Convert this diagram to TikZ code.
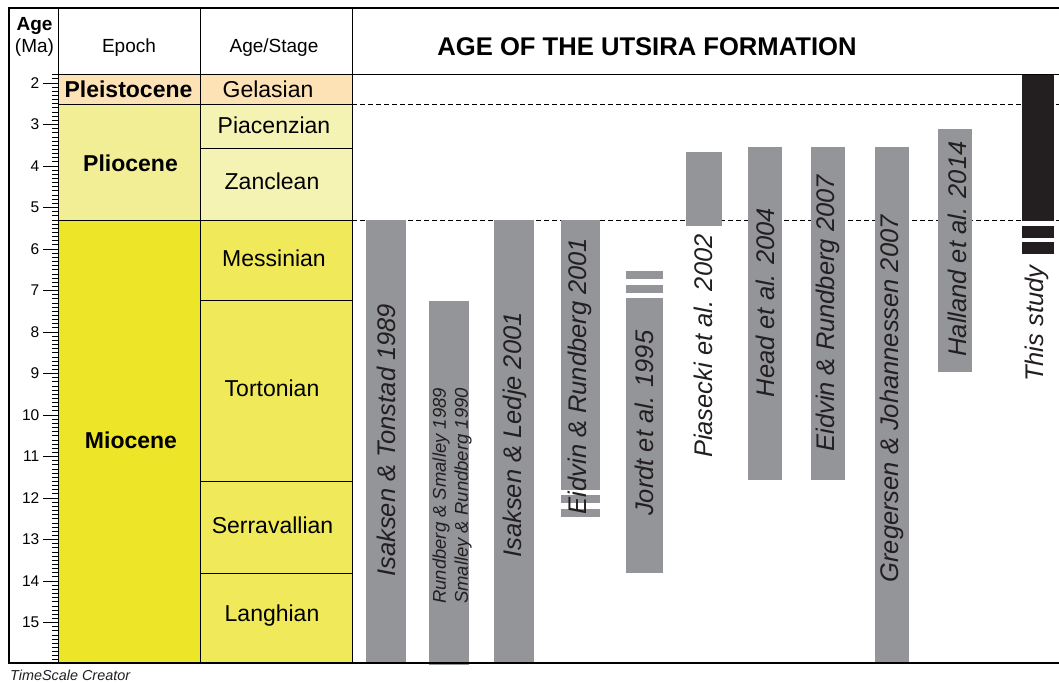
\documentclass[tikz,border=0pt]{standalone}
\usepackage{fontspec}
\setmainfont{Liberation Sans}
\usetikzlibrary{positioning}
\definecolor{pleistocol}{RGB}{253,226,182}
\definecolor{pliocol}{RGB}{242,238,150}
\definecolor{pliostage}{RGB}{245,243,180}
\definecolor{miocol}{RGB}{237,230,40}
\definecolor{miostage}{RGB}{240,234,90}
\definecolor{bargrey}{RGB}{147,149,152}
\definecolor{barblack}{RGB}{35,31,32}

\begin{document}
\begin{tikzpicture}[x=1pt,y=-41.5pt,
  reflabel/.style={rotate=90,inner sep=0pt,text=barblack,font=\fontsize{25.5}{30}\selectfont\itshape},
  hdrtext/.style={inner sep=0pt,font=\fontsize{19}{22}\selectfont},
  epochtext/.style={inner sep=0pt,font=\fontsize{23}{26}\selectfont\bfseries},
  stagetext/.style={inner sep=0pt,font=\fontsize{23}{26}\selectfont},
  ticklabel/.style={inner sep=0pt,anchor=east,font=\fontsize{15.5}{17}\selectfont},
  cell/.style={draw=black,line width=0.8pt},
  tick/.style={line width=0.8pt},
  bound/.style={dash pattern=on 5pt off 3pt,line width=0.8pt}]
\useasboundingbox (0,0) rectangle (1059,16.434);

%epochs
\filldraw[cell,fill=pleistocol] (58,1.783) rectangle (200,2.51);
\filldraw[cell,fill=pliocol] (58,2.51) rectangle (200,5.30);
\filldraw[cell,fill=miocol] (58,5.30) rectangle (200,15.98);
%stages
\filldraw[cell,fill=pleistocol] (200,1.783) rectangle (352,2.51);
\filldraw[cell,fill=pliostage] (200,2.51) rectangle (352,3.566);
\filldraw[cell,fill=pliostage] (200,3.566) rectangle (352,5.30);
\filldraw[cell,fill=miostage] (200,5.30) rectangle (352,7.23);
\filldraw[cell,fill=miostage] (200,7.23) rectangle (352,11.59);
\filldraw[cell,fill=miostage] (200,11.59) rectangle (352,13.81);
\filldraw[cell,fill=miostage] (200,13.81) rectangle (352,15.98);

\node[epochtext] (pleisto) at (128.5,2.145) {Pleistocene};
\node[epochtext] (plio) at (130.5,3.93) {Pliocene};
\node[epochtext] (mio) at (131,10.6) {Miocene};
\node[stagetext] (gel) at (268,2.145) {Gelasian};
\node[stagetext] (pia) at (274,3.03) {Piacenzian};
\node[stagetext] (zan) at (272,4.38) {Zanclean};
\node[stagetext] (mes) at (274,6.22) {Messinian};
\node[stagetext] (tor) at (272,9.35) {Tortonian};
\node[stagetext] (ser) at (272.5,12.65) {Serravallian};
\node[stagetext] (lan) at (272,14.84) {Langhian};

%header
\node[hdrtext,font=\fontsize{19}{22}\selectfont\bfseries] (agehd) at (34.5,0.627) {Age};
\node[hdrtext] (mahd) at (34.5,1.157) {(Ma)};
\node[hdrtext] (epochhd) at (129,1.157) {Epoch};
\node[hdrtext] (stagehd) at (274,1.157) {Age/Stage};
\node[inner sep=0pt,font=\fontsize{25.6}{30}\selectfont\bfseries] (title) at (647,1.133) {AGE OF THE UTSIRA FORMATION};

%ticks
\foreach \t in {18,...,159}{%
\draw[tick] (52,\t/10) -- (58,\t/10);
}
\foreach \a in {2,...,15}{%
\draw[tick] (43,\a) -- (58,\a);
\node[ticklabel] (t\a) at (39.5,\a) {\a};
}

%boundaries
\draw[bound] (352,2.51) -- (1059,2.51);
\draw[bound] (352,5.30) -- (1059,5.30);

%bars
\foreach \xl/\xr/\ta/\tb in {366/406/5.30/15.98, 429/469/7.245/16.03,
  494/534/5.30/15.98, 561/600/5.30/11.81, 561/600/11.93/12.11, 561/600/12.27/12.45,
  626/663/6.53/6.72, 626/663/6.87/7.05, 626/663/7.18/13.80,
  686/722/3.66/5.45, 748/782/3.54/11.57, 811/845/3.54/11.57,
  875/909/3.54/15.98, 938/972/3.11/8.96}{%
\fill[bargrey] (\xl,\ta) rectangle (\xr,\tb);
}
%this study
\foreach \ta/\tb in {1.783/5.33, 5.45/5.73, 5.83/6.12}{%
\fill[barblack] (1022,\ta) rectangle (1054,\tb);
}

%frame
\draw[line width=0.8pt] (58,1.783) -- (1059,1.783);
\foreach \x in {58,200,352}{%
\draw[line width=0.8pt] (\x,0.193) -- (\x,15.98);
}
\draw[line width=2pt] (1059,0.193) -- (9,0.193) -- (9,15.98) -- (1059,15.98);

%references
\node[reflabel] (tonstad) at (386,10.61) {Isaksen \& Tonstad 1989};
\node[reflabel,align=center,font=\fontsize{18.5}{22}\selectfont\itshape] (rundberg) at (452,11.95) {Rundberg \& Smalley 1989\\Smalley \& Rundberg 1990};
\node[reflabel] (ledje) at (515,10.48) {Isaksen \& Ledje 2001};
\node[reflabel] (eidvin01) at (580,9.06) {Eidvin \& Rundberg 2001};
\node[reflabel] (jordt) at (644,10.20) {Jordt et al. 1995};
\node[reflabel] (piasecki) at (703,8.34) {Piasecki et al. 2002};
\node[reflabel] (head) at (765,7.29) {Head et al. 2004};
\node[reflabel] (eidvin07) at (828,7.55) {Eidvin \& Rundberg 2007};
\node[reflabel] (gregersen) at (892,9.61) {Gregersen \& Johannessen 2007};
\node[reflabel] (halland) at (957,6.0) {Halland et al. 2014};
\node[reflabel] (thisstudy) at (1037,7.8) {This study};

\node[inner sep=0pt,anchor=west,text=barblack,font=\fontsize{14.4}{16}\selectfont\itshape] (tsc) at (10,16.265) {TimeScale Creator};
\end{tikzpicture}
\end{document}
